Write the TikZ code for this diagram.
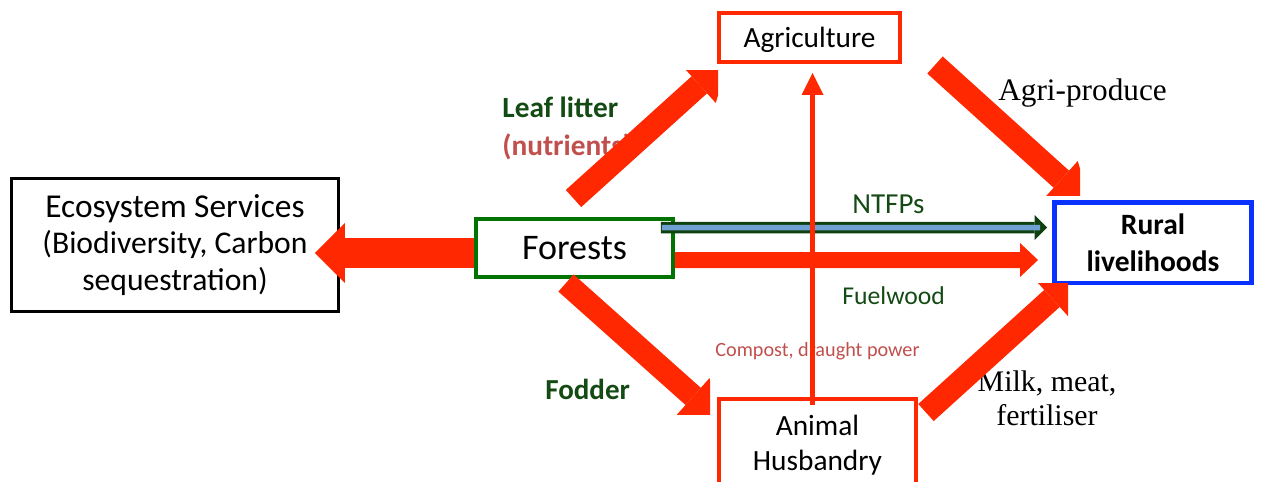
\documentclass[tikz,border=0pt]{standalone}
\usepackage{fontspec}
\setmainfont{Carlito}
\newfontfamily\serifnote{Liberation Serif}
\usetikzlibrary{arrows.meta}

\definecolor{arrowred}{RGB}{255,40,0}
\definecolor{forestgreen}{RGB}{0,115,0}
\definecolor{labelgreen}{RGB}{20,75,20}
\definecolor{noterose}{RGB}{192,80,77}
\definecolor{ntfpblue}{RGB}{110,160,210}
\definecolor{ntfpgreen}{RGB}{15,65,15}
\definecolor{ruralblue}{RGB}{10,50,255}

\tikzset{
  box/.style={draw, fill=white, align=center, inner sep=0pt, line width=0.08cm},
  bigarrow/.style={arrowred, line width=0.46cm,
    -{Triangle[width=0.98cm, length=0.8cm, line width=0pt]}},
  greenlabel/.style={anchor=base west, inner sep=0pt, text=labelgreen},
}

\begin{document}
\begin{tikzpicture}[x=0.02cm, y=-0.02cm, >=Stealth]
      \useasboundingbox (0,0) rectangle (1261,481);
      \clip (0,0) rectangle (1261,481);

      % Caixas
      \node[box, line width=0.06cm, minimum width=6.54cm, minimum height=2.66cm,
        font=\fontsize{18}{21}\selectfont] (eco) at (175,245)
        {\fontsize{19}{21}\selectfont Ecosystem Services\\(Biodiversity, Carbon\\sequestration)};
      \node[box, draw=forestgreen, minimum width=3.94cm, minimum height=1.16cm,
        text depth=0pt, font=\fontsize{20.5}{24}\selectfont] (forest) at (574.5,248) {Forests};
      \node[box, draw=arrowred, minimum width=3.62cm, minimum height=0.98cm,
        text depth=0pt, font=\fontsize{16.7}{20}\selectfont] (agri) at (809.5,37.5) {Agriculture};
      \node[box, draw=arrowred, minimum width=3.94cm, minimum height=1.84cm,
        font=\fontsize{16.7}{20}\selectfont] (animal) at (817.5,445) {Animal\\Husbandry};
      \node[box, draw=ruralblue, line width=0.09cm, minimum width=3.95cm, minimum height=1.61cm,
        font=\bfseries\fontsize{16.8}{21}\selectfont] (rural) at (1153,242.5) {Rural\\livelihoods};

      % Legendas
      \node[greenlabel, font=\bfseries\fontsize{16.7}{20}\selectfont] (leaf) at (502,117) {Leaf litter};
      \node[greenlabel, text=noterose, font=\bfseries\fontsize{16.7}{20}\selectfont] (nutr) at (502,155) {(nutrients)};
      \node[greenlabel, font=\bfseries\fontsize{16.5}{20}\selectfont] (fodder) at (545,399) {Fodder};
      \node[greenlabel, font=\fontsize{16.5}{20}\selectfont] (ntfp) at (852,213) {NTFPs};
      \node[greenlabel, font=\fontsize{14.6}{18}\selectfont] (fuel) at (842,304) {Fuelwood};
      \node[greenlabel, text=noterose, font=\fontsize{11.5}{14}\selectfont] (compost) at (715,356) {Compost, draught power};
      \node[anchor=base west, inner sep=0pt, font=\serifnote\fontsize{17.8}{20}\selectfont] (produce) at (998,100) {Agri-produce};
      \node[align=center, inner sep=0pt, font=\serifnote\fontsize{17}{19.3}\selectfont] (milk) at (1047,398) {Milk, meat,\\fertiliser};

      % Setas largas
      \draw[arrowred, line width=0.6cm, -{Triangle[width=1.2cm, length=0.6cm, line width=0pt]}]
        ([shift={(0,5)}]forest.west) -- ([shift={(-25,8)}]eco.east);
      \begin{scope}
        \clip (0,70) rectangle (718,481);
        \draw[bigarrow] ([shift={(-1,-18.5)}]forest.north) -- ([shift={(12,-6)}]agri.south west);
      \end{scope}
      \begin{scope}
        \clip (0,0) rectangle (1080,195);
        \draw[bigarrow] ([shift={(33,27.5)}]agri.east) -- ([shift={(39,6)}]rural.north west);
      \end{scope}
      \begin{scope}
        \clip (0,0) rectangle (710,414);
        \draw[bigarrow] ([shift={(-8.5,4)}]forest.south) -- ([shift={(6,26)}]animal.north west);
      \end{scope}
      \begin{scope}
        \clip (0,283) rectangle (1068,481);
        \draw[bigarrow] ([shift={(8,15.5)}]animal.north east) -- ([shift={(29.6,-13.4)}]rural.south west);
      \end{scope}

      % Fuelwood
      \draw[arrowred, line width=0.32cm, -{Triangle[width=0.68cm, length=0.36cm, line width=0pt]}]
        ([shift={(0,12)}]forest.east) -- ([shift={(-14,17.5)}]rural.west);

      % NTFPs
      \draw[ntfpgreen, line width=0.23cm, -{Triangle[width=0.5cm, length=0.25cm, line width=0pt]}]
        ([shift={(-14,-20.5)}]forest.east) -- ([shift={(-5,-15)}]rural.west);
      \draw[ntfpblue, line width=0.11cm]
        ([shift={(-13,-20.5)}]forest.east) -- ([shift={(-12,-15)}]rural.west);

      % Compost, draught power
      \draw[arrowred, line width=0.1cm, -{Triangle[width=0.44cm, length=0.44cm, line width=0pt]}]
        ([shift={(-5,8)}]animal.north) -- ([shift={(3,9)}]agri.south);

    \end{tikzpicture}
\end{document}
